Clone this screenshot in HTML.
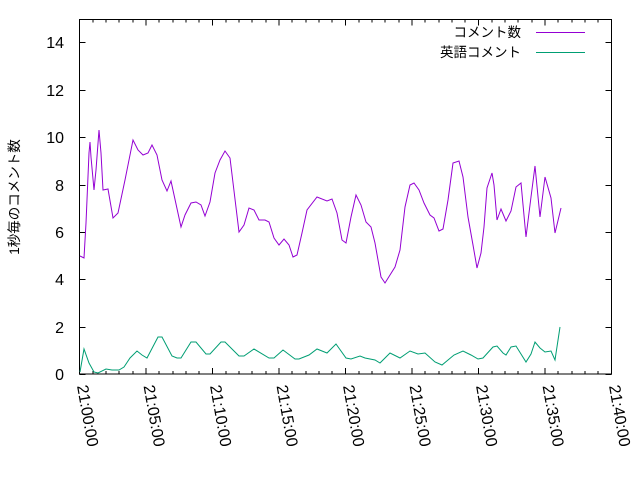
<!DOCTYPE html>
<html><head><meta charset="utf-8"><style>body{margin:0;background:#fff}svg{display:block}text{font-family:"Liberation Sans","Noto Sans CJK JP",sans-serif;font-size:16px;fill:#000}.j{font-size:13.5px}</style></head><body>
<svg width="640" height="480" viewBox="0 0 640 480">
<g stroke="#000" stroke-width="1" fill="none">
<rect x="79.5" y="19.5" width="532" height="354.5"/>
<path d="M79.5 374.5h6M79.5 327.5h6M79.5 279.5h6M79.5 232.5h6M79.5 185.5h6M79.5 137.5h6M79.5 90.5h6M79.5 42.5h6M611.5 374.5h-6M611.5 327.5h-6M611.5 279.5h-6M611.5 232.5h-6M611.5 185.5h-6M611.5 137.5h-6M611.5 90.5h-6M611.5 42.5h-6"/>
<path d="M79.5 374v-6M146 374v-6M212.5 374v-6M279 374v-6M345.5 374v-6M412 374v-6M478.5 374v-6M545 374v-6M611.5 374v-6M79.5 19.5v6M146 19.5v6M212.5 19.5v6M279 19.5v6M345.5 19.5v6M412 19.5v6M478.5 19.5v6M545 19.5v6"/>
<path d="M93 374v-3M106 374v-3M119 374v-3M133 374v-3M159 374v-3M173 374v-3M186 374v-3M199 374v-3M226 374v-3M239 374v-3M252 374v-3M266 374v-3M292 374v-3M306 374v-3M319 374v-3M332 374v-3M359 374v-3M372 374v-3M385 374v-3M399 374v-3M425 374v-3M439 374v-3M452 374v-3M465 374v-3M492 374v-3M505 374v-3M518 374v-3M532 374v-3M558 374v-3M572 374v-3M585 374v-3M598 374v-3M93 19.5v3M106 19.5v3M119 19.5v3M133 19.5v3M159 19.5v3M173 19.5v3M186 19.5v3M199 19.5v3M226 19.5v3M239 19.5v3M252 19.5v3M266 19.5v3M292 19.5v3M306 19.5v3M319 19.5v3M332 19.5v3M359 19.5v3M372 19.5v3M385 19.5v3M399 19.5v3M425 19.5v3M439 19.5v3M452 19.5v3M465 19.5v3M492 19.5v3M505 19.5v3M518 19.5v3M532 19.5v3M558 19.5v3M572 19.5v3M585 19.5v3M598 19.5v3"/>
</g>
<g text-anchor="end">
<text x="64" y="380">0</text><text x="64" y="333">2</text><text x="64" y="285">4</text><text x="64" y="238">6</text><text x="64" y="191">8</text><text x="64" y="143">10</text><text x="64" y="96">12</text><text x="64" y="48">14</text>
<text class="j" x="521" y="37">コメント数</text><text class="j" x="521" y="57">英語コメント</text>
</g>
<g>
<text transform="translate(77,386) rotate(80)">21:00:00</text>
<text transform="translate(143.5,386) rotate(80)">21:05:00</text>
<text transform="translate(210,386) rotate(80)">21:10:00</text>
<text transform="translate(276.5,386) rotate(80)">21:15:00</text>
<text transform="translate(343,386) rotate(80)">21:20:00</text>
<text transform="translate(409.5,386) rotate(80)">21:25:00</text>
<text transform="translate(476,386) rotate(80)">21:30:00</text>
<text transform="translate(542.5,386) rotate(80)">21:35:00</text>
<text transform="translate(609,386) rotate(80)">21:40:00</text>
</g>
<text class="j" transform="translate(19,197) rotate(-90)" text-anchor="middle">1秒毎のコメント数</text>
<g fill="none" stroke-width="1">
<path stroke="#9400d3" d="M536 32.5H585"/>
<path stroke="#009e73" d="M536 52.5H585"/>
<polyline stroke="#9400d3" points="80,256 84,258 86,223 89,153 90,142 91,157 94,190 96,170 99,130 101,153 103,190 108,189 113,218 118,213 125,180 133,140 138,150 143,155 148,153 152,145 157,155 162,180 167,191 171,181 181,227 185,215 191,203 196,202 201,205 205,216 210,202 215,173 220,160 225,151 230,158 239,232 244,225 249,208 254,210 259,220 265,220 269,222 274,238 279,245 284,239 289,245 293,257 297,255 302,233 307,210 317,197 327,201 332,199 337,213 342,240 346,243 351,217 356,195 361,205 366,222 371,227 375,243 381,277 385,283 390,275 395,267 400,250 405,207 410,185 414,183 419,190 424,203 430,215 434,218 439,231 443,229 448,200 453,163 459,161 463,177 468,217 473,245 477,268 481,253 484,227 487,188 492,173 494,185 497,220 501,209 506,221 511,211 516,187 521,183 526,237 531,197 535,166 540,217 545,177 551,198 555,233 561,208"/>
<polyline stroke="#009e73" points="80,372 84,349 89,363 94,372 98,373 106,369 112,370 119,370 124,367 130,358 137,351 142,355 147,358 158,337 162,337 172,356 177,358 181,358 191,342 196,342 206,354 210,354 221,342 225,342 239,356 244,356 254,349 269,358 274,358 283,350 295,359 299,359 309,355 317,349 327,353 336,344 346,358 351,359 360,356 365,358 375,360 380,363 390,353 400,358 410,351 418,354 425,353 435,362 442,365 454,355 463,351 471,355 478,359 483,358 493,347 497,346 503,353 506,355 511,347 516,346 526,362 531,354 535,342 540,348 545,352 551,351 555,360 560,327"/>
</g>
</svg>
</body></html>
